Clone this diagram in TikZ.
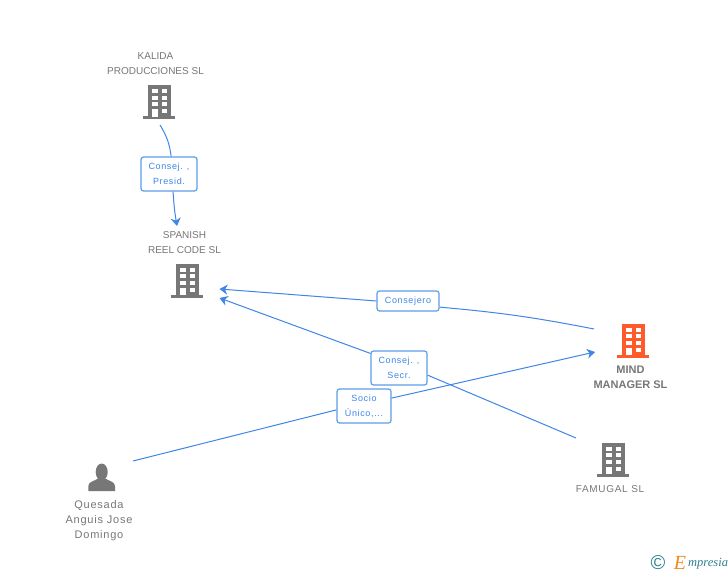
\documentclass[tikz,border=0pt]{standalone}
\usepackage{fontspec}
\setmainfont{Liberation Sans}
\newfontfamily\labelfont{Liberation Sans}
\newfontfamily\rolefont[LetterSpace=7]{Liberation Sans}
\newfontfamily\logofont{Liberation Serif}
\usetikzlibrary{arrows.meta}
\definecolor{iconGray}{HTML}{777777}
\definecolor{iconOrange}{HTML}{FF5A2B}
\definecolor{linkBlue}{HTML}{3F86E6}
\definecolor{boxBlue}{HTML}{5F9DEA}
\definecolor{logoTeal}{HTML}{2F7F8F}
\definecolor{logoOrange}{HTML}{F08A1D}
\tikzset{pics/building/.style={code={
  \fill[#1] (-11.5,-33.5) rectangle (11.5,-2);
  \fill[#1] (-16,-2.5) rectangle (16,0);
  \foreach \y in {-30,-23.3,-16.6} {
    \fill[white] (-6.7,\y) rectangle ++(5.2,4);
    \fill[white] (2.7,\y) rectangle ++(5.2,4);
  }
  \fill[white] (2.7,-10) rectangle ++(5.2,4.4);
  \fill[white] (-6.7,-10) rectangle ++(5.2,7.8);
}}}
\begin{document}
\begin{tikzpicture}[x=1pt,y=-1pt]
\tikzstyle{entity}=[text=iconGray,font=\labelfont\fontsize{10}{15}\selectfont,align=center,inner sep=0pt]
\tikzstyle{rolebox}=[rectangle,rounded corners=2.5pt,draw=boxBlue,line width=1.2pt,fill=white,text=linkBlue,font=\rolefont\fontsize{9}{15}\selectfont,align=center,inner sep=0pt]
\tikzstyle{link}=[linkBlue,line width=1pt]
\tikzstyle{arrowlink}=[link,-{Stealth[length=8pt,width=10pt,inset=2.5pt]}]
\useasboundingbox (0,0) rectangle (728,575);
\fill[white] (0,0) rectangle (728,575);

\pic at (159,119) {building=iconGray};
\pic at (187,297.5) {building=iconGray};
\pic at (633,357.5) {building=iconOrange};
\pic at (613,476.5) {building=iconGray};
\fill[iconGray] (88.3,491) -- (88.3,486) .. controls (88.3,481.5) and (95,481) .. (98,478.5) -- (105.5,478.5) .. controls (108.5,481) and (115,481.5) .. (115,486) -- (115,491) -- cycle;
\fill[iconGray] (101.7,472) ellipse (6 and 8.5);

\node[entity] (kalida) at (155.5,64) {KALIDA\\PRODUCCIONES SL};
\node[entity] (spanish) at (184.5,243) {SPANISH\\REEL CODE SL};
\node[entity,font=\bfseries\fontsize{11}{15}\selectfont] (mind) at (630.5,377.5) {MIND\\MANAGER SL};
\node[entity,font=\rolefont\fontsize{10}{15}\selectfont] (famugal) at (610,489) {FAMUGAL  SL};
\node[entity,font=\rolefont\fontsize{11}{15}\selectfont] (quesada) at (99,520.5) {Quesada\\Anguis Jose\\Domingo};

\coordinate (kalidaout) at (160,125);
\coordinate (spanishin) at (177,226);
\coordinate (spanishinA) at (219.5,289);
\coordinate (spanishinB) at (219.5,298);
\coordinate (mindout) at (594,329);
\coordinate (mindin) at (595,352);
\coordinate (famugalout) at (576,438);
\coordinate (quesadaout) at (133,461);

\node[rolebox,minimum width=56pt,minimum height=34pt] (conspres) at (169,174) {Consej. ,\\Presid.};
\node[rolebox,minimum width=62pt,minimum height=20pt] (consejero) at (408,301) {Consejero};
\node[rolebox,minimum width=56pt,minimum height=34pt] (conssecr) at (399,368) {Consej. ,\\Secr.};
\node[rolebox,minimum width=54pt,minimum height=34pt] (socio) at (364,406) {Socio\\Único,...};

\draw[link] (kalidaout) to[bend left=12] (conspres.83);
\draw[arrowlink] (conspres.-77) to[bend right=3] (spanishin);
\draw[arrowlink] (consejero.west) -- (spanishinA);
\draw[link] (mindout) to[bend right=3] (consejero.-11);
\draw[arrowlink] (conssecr.153) -- (spanishinB);
\draw[link] (famugalout) -- (conssecr.-14);
\draw[link] (quesadaout) -- (socio.188);
\draw[arrowlink] (socio.16) -- (mindin);

\node[inner sep=0pt,text=logoTeal,font=\fontsize{20}{20}\selectfont] (copyright) at (658,563) {©};
\node[inner sep=0pt,text=logoOrange,font=\logofont\itshape\fontsize{20}{20}\selectfont] (logoe) at (680,563) {E};
\node[inner sep=0pt,text=logoTeal,font=\logofont\itshape\fontsize{12.5}{13}\selectfont,anchor=west] (logotext) at (688,564) {mpresia};
\end{tikzpicture}
\end{document}
